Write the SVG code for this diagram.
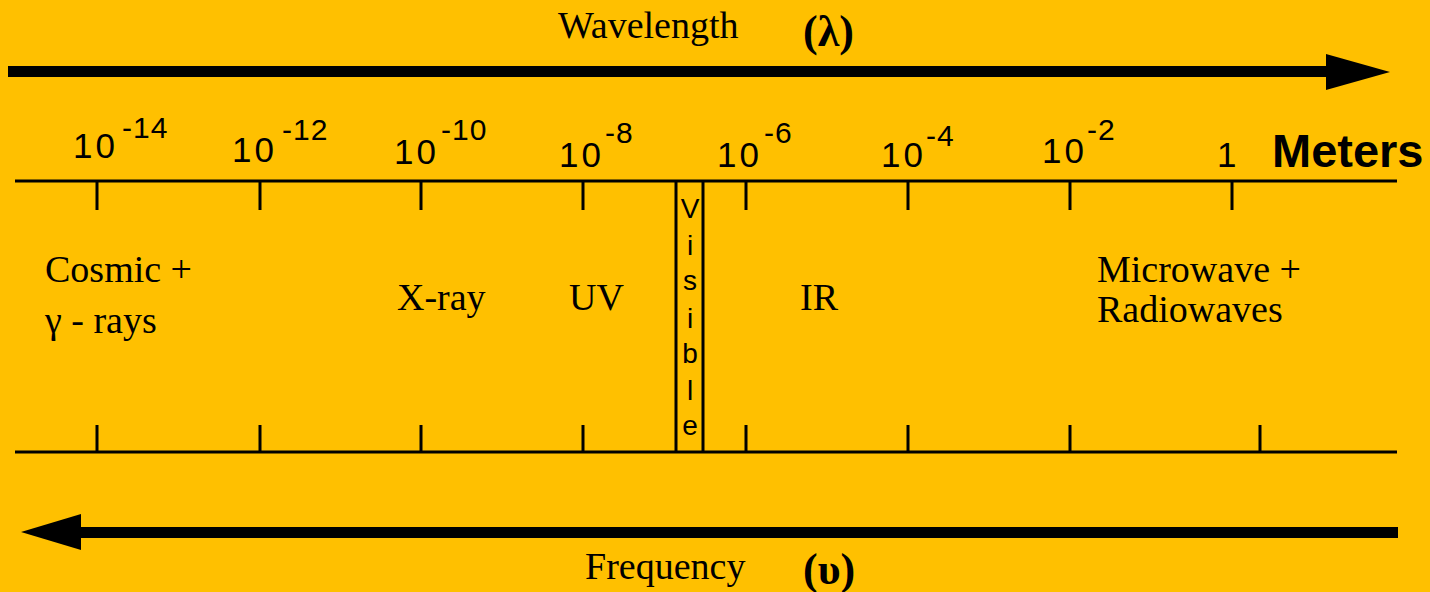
<svg xmlns="http://www.w3.org/2000/svg" width="1430" height="592" viewBox="0 0 1430 592">
<style>
.serif{font-family:"Liberation Serif","Times New Roman",serif;fill:#000;font-size:38px}
.bold{font-weight:bold;font-size:44px}
.num{font-family:"Liberation Sans",Arial,sans-serif;fill:#000;font-size:35px;letter-spacing:3px}
.sup{font-family:"Liberation Sans",Arial,sans-serif;fill:#000;font-size:30px;letter-spacing:1px}
.vis{font-family:"Liberation Sans",Arial,sans-serif;fill:#000;font-size:28px;text-anchor:middle}
.ln{stroke:#000;stroke-width:3;fill:none}
</style>
<rect width="1430" height="592" fill="#FFC000"/>
<g id="connectors">
  <rect x="8" y="66" width="1322" height="11" fill="#000"/>
  <polygon points="1326,54 1390,72 1326,90" fill="#000"/>
  <rect x="75" y="527" width="1323" height="11" fill="#000"/>
  <polygon points="81,514 21,532 81,550" fill="#000"/>
</g>
<g id="axis">
  <line class="ln" x1="15" y1="181" x2="1397" y2="181"/>
  <line class="ln" x1="15" y1="452" x2="1397" y2="452"/>
  <path class="ln" d="M97 181V210M260 181V210M421 181V210M583 181V210M746 181V210M908 181V210M1070 181V210M1232 181V210"/>
  <path class="ln" d="M97 425V452M260 425V452M421 425V452M583 425V452M746 425V452M908 425V452M1070 425V452M1260 425V452"/>
</g>
<g id="visible">
  <line class="ln" x1="676" y1="181" x2="676" y2="452"/>
  <line class="ln" x1="703" y1="181" x2="703" y2="452"/>
  <text class="vis" x="690" y="218">V</text>
  <text class="vis" x="690" y="255">i</text>
  <text class="vis" x="690" y="290">s</text>
  <text class="vis" x="690" y="328">i</text>
  <text class="vis" x="690" y="363">b</text>
  <text class="vis" x="690" y="400">l</text>
  <text class="vis" x="690" y="435">e</text>
</g>
<g id="titles">
  <text class="serif" x="558" y="38">Wavelength</text>
  <text class="serif bold" x="803" y="46">(λ)</text>
  <text class="serif" x="585" y="579">Frequency</text>
  <text class="serif bold" x="803" y="584">(υ)</text>
</g>
<g id="scale">
  <text class="num" x="73" y="158">10</text><text class="sup" x="122" y="138">-14</text>
  <text class="num" x="232" y="162">10</text><text class="sup" x="282" y="140">-12</text>
  <text class="num" x="394" y="164">10</text><text class="sup" x="441" y="140">-10</text>
  <text class="num" x="559" y="167">10</text><text class="sup" x="605" y="143">-8</text>
  <text class="num" x="717" y="167">10</text><text class="sup" x="764" y="143">-6</text>
  <text class="num" x="881" y="167">10</text><text class="sup" x="926" y="146">-4</text>
  <text class="num" x="1042" y="163">10</text><text class="sup" x="1087" y="140">-2</text>
  <text class="num" x="1217" y="167">1</text>
  <text class="num" x="1272" y="167" style="font-size:47px;font-weight:bold;letter-spacing:0">Meters</text>
</g>
<g id="cosmic"><text class="serif" x="45" y="282">Cosmic +</text><text class="serif" x="45" y="333">γ - rays</text></g>
<g id="xray"><text class="serif" x="397" y="310">X-ray</text></g>
<g id="uv"><text class="serif" x="569" y="310">UV</text></g>
<g id="ir"><text class="serif" x="800" y="310">IR</text></g>
<g id="radio"><text class="serif" x="1097" y="282">Microwave +</text><text class="serif" x="1097" y="322">Radiowaves</text></g>
</svg>
